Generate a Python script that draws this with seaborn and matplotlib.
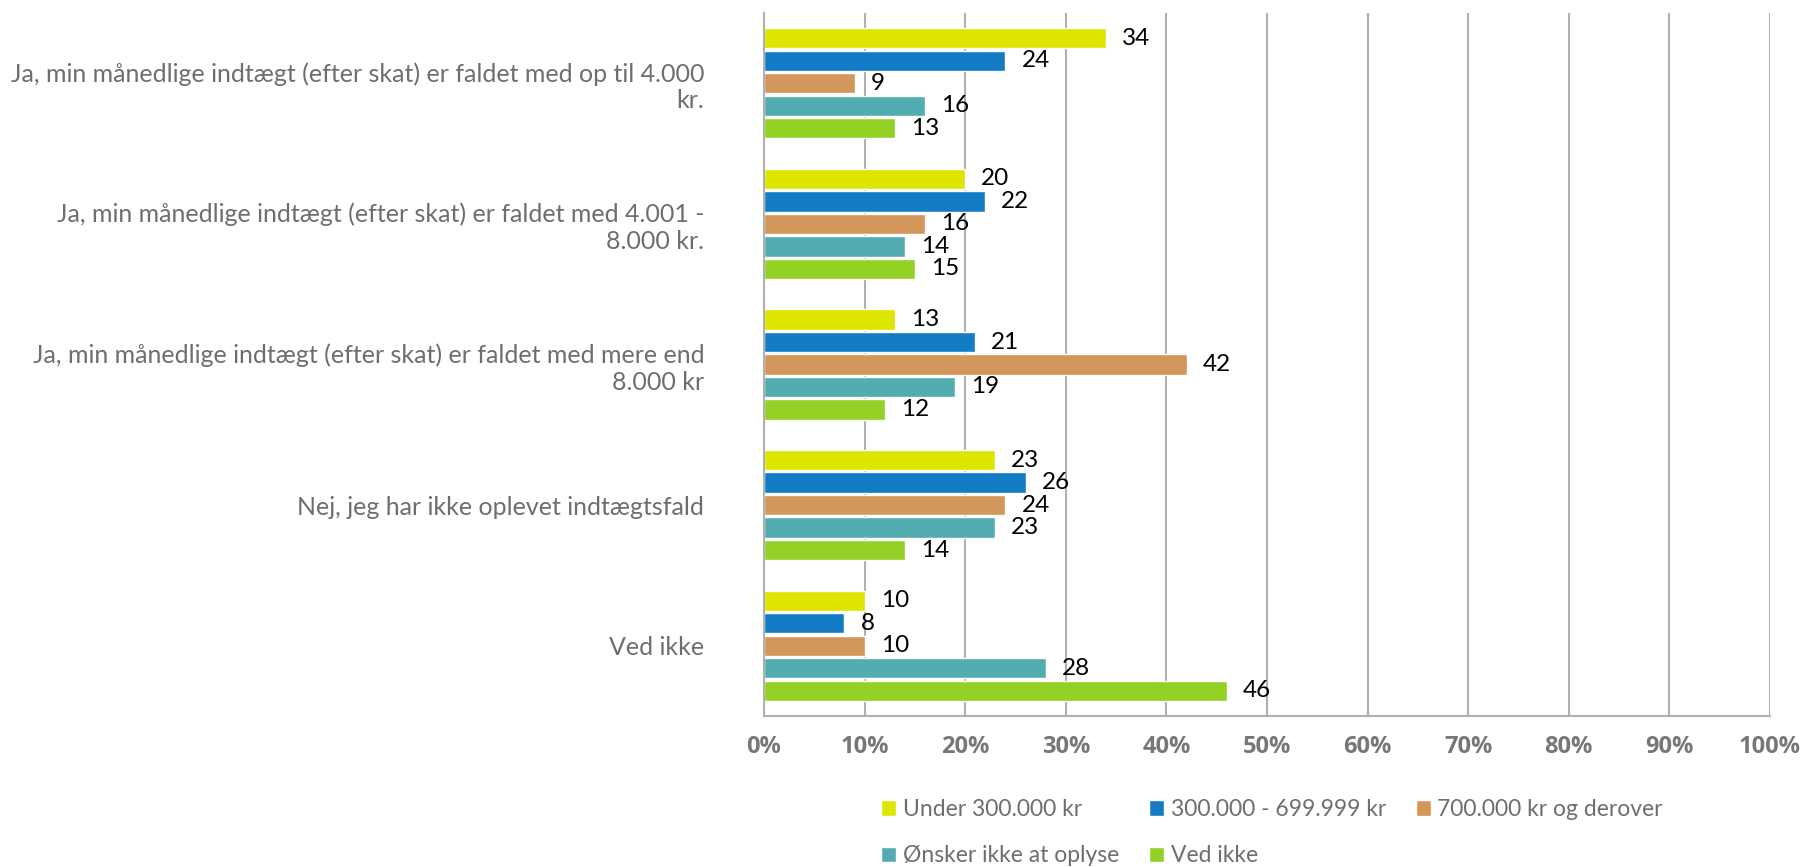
import matplotlib
matplotlib.use("Agg")
import matplotlib.pyplot as plt
import seaborn as sns
import pandas as pd

categories = [
    "Ja, min månedlige indtægt (efter skat) er faldet med op til 4.000\nkr.",
    "Ja, min månedlige indtægt (efter skat) er faldet med 4.001 -\n8.000 kr.",
    "Ja, min månedlige indtægt (efter skat) er faldet med mere end\n8.000 kr",
    "Nej, jeg har ikke oplevet indtægtsfald",
    "Ved ikke",
]
series = ["Under 300.000 kr", "300.000 - 699.999 kr", "700.000 kr og derover",
          "Ønsker ikke at oplyse", "Ved ikke"]
under_300 = [34, 20, 13, 23, 10]
mid_300_699 = [24, 22, 21, 26, 8]
over_700 = [9, 16, 42, 24, 10]
oensker_ikke = [16, 14, 19, 23, 28]
ved_ikke = [13, 15, 12, 14, 46]
colors = ["#DEE600", "#137CC5", "#D3965B", "#53ACB0", "#94D125"]
xticks = [0, 10, 20, 30, 40, 50, 60, 70, 80, 90, 100]
xticklabels = ["0%", "10%", "20%", "30%", "40%", "50%", "60%", "70%", "80%", "90%", "100%"]

values = [under_300, mid_300_699, over_700, oensker_ikke, ved_ikke]
rows = []
for s, vals in zip(series, values):
    for c, v in zip(categories, vals):
        rows.append({"cat": c, "series": s, "value": v})
df = pd.DataFrame(rows)

sns.set_theme(style="white")
plt.rcParams["font.family"] = ["Lato", "DejaVu Sans"]

GRAY_TXT = "#6e6e6e"
GRID = "#b0b0b0"

fig = plt.figure(figsize=(18.04, 8.67), dpi=100)
ax = fig.add_axes([764 / 1804, 1 - 716 / 867, (1770 - 764) / 1804, (716 - 13) / 867])

sns.barplot(data=df, y="cat", x="value", hue="series", orient="h",
            palette=colors, hue_order=series, order=categories,
            gap=0.1, errorbar=None, saturation=1, ax=ax)

for cont in ax.containers:
    ax.bar_label(cont, fmt="%g", padding=11.5, fontsize=17.5, color="black")

ax.set_xlim(0, 100)
ax.set_xticks(xticks, labels=xticklabels)
for t in ax.get_xticklabels():
    t.set_family(["Open Sans", "DejaVu Sans"])
    t.set_fontweight("bold")
ax.set_xlabel("")
ax.set_ylabel("")
ax.grid(axis="x", color=GRID, linewidth=1.5)
ax.grid(axis="y", visible=False)
ax.set_axisbelow(True)
for side in ["top", "right"]:
    ax.spines[side].set_visible(False)
for side in ["left", "bottom"]:
    ax.spines[side].set_color(GRID)
    ax.spines[side].set_linewidth(1.5)

ax.tick_params(axis="x", direction="out", length=6, width=1.5, color=GRID,
               pad=8, labelsize=17, labelcolor="#777777")
ax.tick_params(axis="y", length=0, pad=43, labelsize=18, labelcolor=GRAY_TXT)

leg = ax.get_legend()
handles = list(leg.legend_handles)
labels = [t.get_text() for t in leg.get_texts()]
leg.remove()
order = [0, 3, 1, 4, 2]
fig.legend([handles[i] for i in order], [labels[i] for i in order],
           loc="upper left", bbox_to_anchor=(881 / 1804, 1 - 799 / 867),
           ncol=3, frameon=False, fontsize=16.5, labelcolor=GRAY_TXT,
           handlelength=0.65, handleheight=0.65, handletextpad=0.3,
           columnspacing=1.3, labelspacing=1.1, borderpad=0, borderaxespad=0)

fig.savefig("out.png", dpi=100)
